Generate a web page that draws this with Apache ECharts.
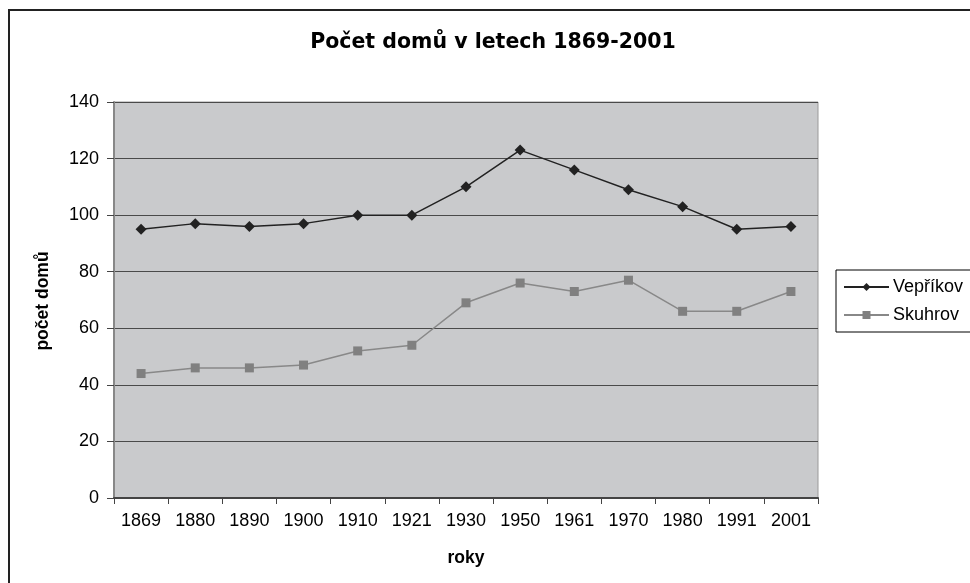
<!DOCTYPE html>
<html><head><meta charset="utf-8">
<script src="https://cdn.jsdelivr.net/npm/echarts@6/dist/echarts.min.js"></script>
<style>html,body{margin:0;padding:0;background:#fff}#c{width:970px;height:583px}</style>
</head><body><div id="c"></div>
<script>
const years = ['1869','1880','1890','1900','1910','1921','1930','1950','1961','1970','1980','1991','2001'];
const veprikov = [95,97,96,97,100,100,110,123,116,109,103,95,96];
const skuhrov = [44,46,46,47,52,54,69,76,73,77,66,66,73];
const yMin = 0, yMax = 140, yStep = 20;
const titleText = 'Počet domů v letech 1869-2001';
const xName = 'roky';
const yName = 'počet domů';
const seriesNames = ['Vepříkov','Skuhrov'];

const chart = echarts.init(document.getElementById('c'), null, {renderer:'canvas'});
const font = 'Liberation Sans, Arial, sans-serif';
chart.setOption({
  animation:false,
  backgroundColor:'#fff',
  textStyle:{fontFamily:font},
  graphic:[
    {type:'rect', z:-1, shape:{x:9, y:10, width:1000, height:620}, style:{fill:'none', stroke:'#222', lineWidth:2}},
    {type:'text', x:493, y:43, style:{text:titleText, font:'bold 20.5px DejaVu Sans', fill:'#000', textAlign:'center', textVerticalAlign:'middle'}},
    {type:'text', x:466, y:558, style:{text:xName, font:'bold 17.5px Liberation Sans', fill:'#000', textAlign:'center', textVerticalAlign:'middle'}},
    {type:'text', x:43, y:301, rotation:Math.PI/2, style:{text:yName, font:'bold 17.5px Liberation Sans', fill:'#000', textAlign:'center', textVerticalAlign:'middle'}}
  ],
  legend:{
    orient:'vertical', left:836, top:270,
    backgroundColor:'#fff', borderColor:'#000', borderWidth:1,
    padding:[7,30,7,7], itemGap:8, itemWidth:45, itemHeight:10,
    textStyle:{fontFamily:font, fontSize:18, color:'#000', lineHeight:20, padding:[0,0,0,-1]},
    data:seriesNames
  },
  grid:{left:114, right:152, top:102, bottom:85, show:true, backgroundColor:'#C9CACC', borderColor:'#9a9a9a', borderWidth:1},
  xAxis:{
    type:'category', data:years, boundaryGap:true,
    axisLine:{lineStyle:{color:'#444', width:2}},
    axisTick:{show:true, length:6, inside:false, lineStyle:{color:'#444'}},
    axisLabel:{color:'#000', fontSize:18, margin:14, fontFamily:font},
    splitLine:{show:false}
  },
  yAxis:{
    type:'value', min:yMin, max:yMax, interval:yStep,
    axisLine:{show:true, lineStyle:{color:'#888', width:2}},
    axisTick:{show:true, length:7, lineStyle:{color:'#444'}},
    axisLabel:{color:'#000', fontSize:18, margin:15, fontFamily:font},
    splitLine:{show:true, lineStyle:{color:'#4a4a4a', width:1}}
  },
  series:[
    {name:seriesNames[0], type:'line', data:veprikov, symbol:'diamond', symbolSize:11, showAllSymbol:true,
     lineStyle:{color:'#222', width:1.5}, itemStyle:{color:'#222'}},
    {name:seriesNames[1], type:'line', data:skuhrov, symbol:'rect', symbolSize:9, showAllSymbol:true,
     lineStyle:{color:'#888', width:1.5}, itemStyle:{color:'#808080'}}
  ]
});
</script></body></html>
